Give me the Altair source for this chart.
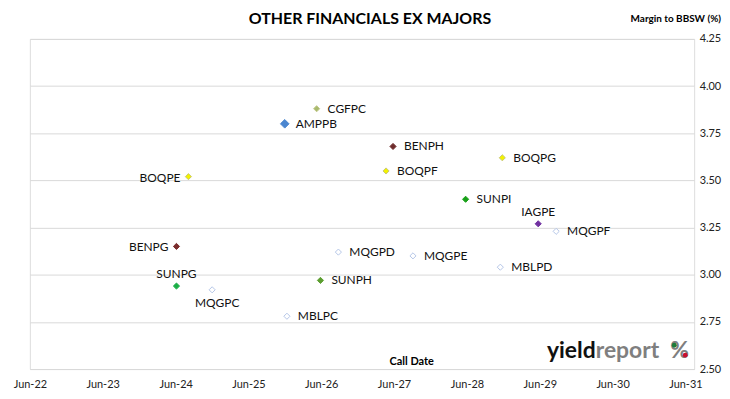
import altair as alt
import pandas as pd

names = ["AMPPB", "CGFPC", "BENPH", "BOQPF", "BOQPE", "BENPG", "BOQPG", "SUNPI", "IAGPE",
         "MQGPF", "MQGPE", "MBLPD", "MQGPD", "SUNPH", "SUNPG", "MQGPC", "MBLPC"]
call_dates = ["2025-11-30", "2026-05-09", "2027-05-27", "2027-04-22", "2024-08-04", "2024-06-05",
              "2028-11-25", "2028-05-25", "2029-05-24", "2029-08-22", "2027-09-04", "2028-11-15",
              "2026-08-26", "2026-05-28", "2024-06-05", "2024-12-01", "2025-12-11"]
margins = [3.80, 3.88, 3.68, 3.55, 3.52, 3.15, 3.62, 3.40, 3.27,
           3.23, 3.10, 3.04, 3.12, 2.97, 2.94, 2.92, 2.78]

fills = ["#4A86D0", "#A8BA6E", "#6E2B2B", "#F2F200", "#F2F200", "#7B2D2D", "#F2F200", "#18A018", "#7030A0",
         "#FFFFFF", "#FFFFFF", "#FFFFFF", "#FFFFFF", "#5C9E30", "#1AAE46", "#FFFFFF", "#FFFFFF"]
strokes = ["#4A86D0", "#C3C98A", "#6E2B2B", "#C8C878", "#C8C878", "#7B2D2D", "#C8C878", "#18A018", "#7030A0",
           "#B4C6E7", "#B4C6E7", "#B4C6E7", "#B4C6E7", "#5C9E30", "#1AAE46", "#B4C6E7", "#B4C6E7"]

right_labels = ["AMPPB", "CGFPC", "BENPH", "BOQPF", "BOQPG", "SUNPI", "MQGPF", "MQGPE",
                "MBLPD", "MQGPD", "SUNPH", "MBLPC"]
left_labels = ["BOQPE", "BENPG"]
above_labels = ["IAGPE", "SUNPG"]
below_labels = ["MQGPC"]

x_ticks = ["2022-06-01", "2023-06-01", "2024-06-01", "2025-06-01", "2026-06-01",
           "2027-06-01", "2028-06-01", "2029-06-01", "2030-06-01", "2031-06-01"]
y_ticks = [2.50, 2.75, 3.00, 3.25, 3.50, 3.75, 4.00, 4.25]

df = pd.DataFrame({"name": names, "date": call_dates, "margin": margins})

FONT = "Lato"

x_enc = alt.X("date:T",
              scale=alt.Scale(type="utc", domain=["2022-06-01", "2031-07-15"]),
              axis=alt.Axis(values=x_ticks, labelExpr="utcFormat(datum.value, '%b-%y')", title=None,
                            grid=False, ticks=False, domain=False, labelPadding=10,
                            labelFlush=False, labelBound=False, labelOverlap=False,
                            labelFontSize=11, labelColor="#222", labelFont=FONT))
y_enc = alt.Y("margin:Q",
              scale=alt.Scale(domain=[2.5, 4.25], nice=False, zero=False),
              axis=alt.Axis(orient="right", values=y_ticks, format=".2f", title=None,
                            grid=True, gridColor="#D9D9D9", ticks=False, domain=False,
                            labelPadding=5, labelFontSize=11, labelColor="#222", labelFont=FONT))

base = alt.Chart(df)

points = base.mark_point(shape="diamond", filled=True, strokeWidth=1, opacity=1).encode(
    x=x_enc, y=y_enc,
    fill=alt.Fill("name:N", scale=alt.Scale(domain=names, range=fills), legend=None),
    stroke=alt.Stroke("name:N", scale=alt.Scale(domain=names, range=strokes), legend=None),
    size=alt.condition(alt.datum.name == "AMPPB", alt.value(75), alt.value(38)),
)

def labels(group, **kw):
    return base.mark_text(font=FONT, fontSize=12, color="#111", **kw).encode(
        x="date:T", y="margin:Q", text="name:N"
    ).transform_filter(alt.FieldOneOfPredicate(field="name", oneOf=group))

lab_r = labels(right_labels, align="left", dx=11, baseline="middle")
lab_l = labels(left_labels, align="right", dx=-8, baseline="middle", dy=1)
lab_a = labels(above_labels, align="center", dy=-12, baseline="middle")
lab_b = labels(below_labels, align="center", dx=5, dy=13, baseline="middle")

def note(text, x, y, size, color="#000", weight="bold", align="center", baseline="middle"):
    return alt.Chart(pd.DataFrame({"t": [text]})).mark_text(
        font=FONT, fontSize=size, fontWeight=weight, color=color, align=align, baseline=baseline
    ).encode(x=alt.value(x), y=alt.value(y), text="t:N")

title = note("OTHER FINANCIALS EX MAJORS", 342, -20, 16)
ytitle = note("Margin to BBSW (%)", 695, -20, 10, align="right")
xtitle = note("Call Date", 384, 325, 11)
logo1 = note("yield", 569, 321, 23, color="#111", align="right", baseline="alphabetic")
logo2 = note("report", 569, 321, 23, color="#7F7F7F", align="left", baseline="alphabetic")
logo3 = note("%", 644, 321, 23, color="#7F7F7F", align="left", baseline="alphabetic")
dot_g = alt.Chart(pd.DataFrame({"t": [1]})).mark_circle(color="#1E7B3A", opacity=1, size=24).encode(
    x=alt.value(648), y=alt.value(308))
dot_r = alt.Chart(pd.DataFrame({"t": [1]})).mark_circle(color="#C8102E", opacity=1, size=24).encode(
    x=alt.value(659), y=alt.value(318))

chart = alt.layer(points, lab_r, lab_l, lab_a, lab_b, title, ytitle, xtitle,
                  logo1, logo2, logo3, dot_g, dot_r).properties(
    width=668, height=332,
    autosize=alt.AutoSizeParams(type="none"),
    padding={"left": 22, "top": 30, "right": 28, "bottom": 25},
).configure_view(stroke="#D9D9D9", strokeWidth=1).configure(background="white")

chart.save("out.html", embed_options={"renderer": "svg", "actions": False})
